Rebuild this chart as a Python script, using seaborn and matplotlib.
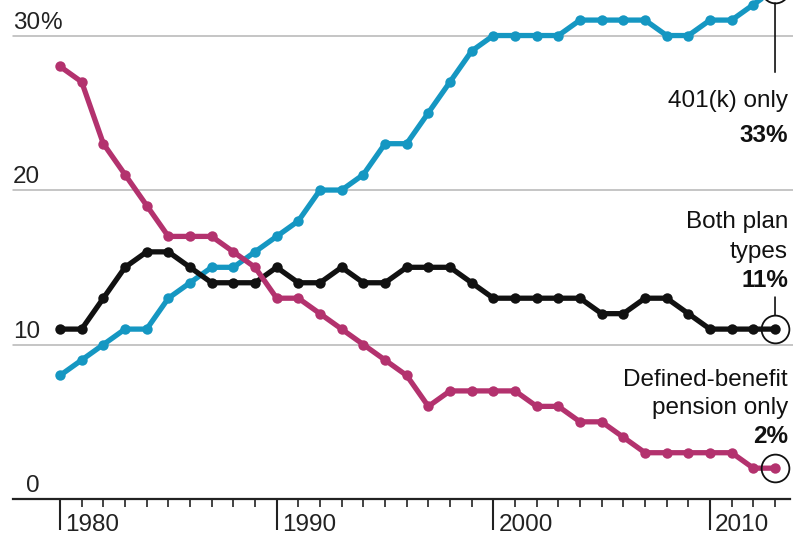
import pandas as pd
import seaborn as sns
import matplotlib.pyplot as plt

# Share of private-sector workers by type of retirement plan, %
years = list(range(1980, 2014))
k401_only = [8, 9, 10, 11, 11, 13, 14, 15, 15, 16,
             17, 18, 20, 20, 21, 23, 23, 25, 27, 29,
             30, 30, 30, 30, 31, 31, 31, 31, 30, 30,
             31, 31, 32, 33]
both_types = [11, 11, 13, 15, 16, 16, 15, 14, 14, 14,
              15, 14, 14, 15, 14, 14, 15, 15, 15, 14,
              13, 13, 13, 13, 13, 12, 12, 13, 13, 12,
              11, 11, 11, 11]
db_only = [28, 27, 23, 21, 19, 17, 17, 17, 16, 15,
           13, 13, 12, 11, 10, 9, 8, 6, 7, 7,
           7, 7, 6, 6, 5, 5, 4, 3, 3, 3,
           3, 3, 2, 2]

plans = ["401(k) only", "Both plan types", "Defined-benefit pension only"]
colors = {"401(k) only": "#1597c2", "Both plan types": "#111111",
          "Defined-benefit pension only": "#b3326e"}
gridlines = [10, 20, 30]
tick_years = [1980, 1990, 2000, 2010]

df = pd.DataFrame({"year": years * 3,
                   "share": k401_only + both_types + db_only,
                   "plan": [plans[0]] * len(years) + [plans[1]] * len(years) + [plans[2]] * len(years)})

sns.set_style("white")
plt.rcParams['font.family'] = ['Liberation Sans', 'DejaVu Sans']

fig = plt.figure(figsize=(7.93, 5.36), dpi=100)
ax = fig.add_axes([0, 0, 1, 1])
ax.set_xlim(1977.23, 2013.83)
ax.set_ylim(-2.39, 32.30)

# light gridlines
for g in gridlines:
    ax.axhline(g, xmin=13 / 793, xmax=1, color="#b5b5b5", lw=1.1, zorder=1)

# draw the three series
for p in plans:
    sub = df[df["plan"] == p]
    sns.lineplot(data=sub, x="year", y="share", color=colors[p], lw=3.8,
                 marker="o", markersize=7.5, markeredgewidth=0, ax=ax,
                 legend=False, zorder=3)

# axes styling
for s in ["top", "left", "right"]:
    ax.spines[s].set_visible(False)
ax.spines["bottom"].set_position(("data", 0))
ax.spines["bottom"].set_bounds(1977.83, 2013.7)
ax.spines["bottom"].set_linewidth(1.6)
ax.spines["bottom"].set_color("#222222")
ax.set_xticks(tick_years)
ax.set_xticks(years, minor=True)
ax.set_xticklabels([])
ax.tick_params(axis="x", which="major", direction="out", length=22, width=1.5,
               color="#222222", bottom=True)
ax.tick_params(axis="x", which="minor", direction="out", length=5.5, width=1.2,
               color="#222222", bottom=True)
ax.set_yticks([])
ax.set_xlabel("")
ax.set_ylabel("")

fs = 17.5
for yr in tick_years:
    ax.annotate(str(yr), xy=(yr, 0), xytext=(5, -32), textcoords="offset pixels",
                ha="left", va="baseline", fontsize=fs, color="#222222")

ytrans = ax.get_yaxis_transform()
for v in [0] + gridlines:
    ax.annotate(str(v), xy=(40 / 793, v), xycoords=ytrans, xytext=(0, 7),
                textcoords="offset pixels", ha="right", va="baseline",
                fontsize=fs, color="#222222")
ax.annotate("%", xy=(40 / 793, 30), xycoords=ytrans, xytext=(0, 7),
            textcoords="offset pixels", ha="left", va="baseline",
            fontsize=fs, color="#222222")

# end-point labels
last = years[-1]
ends = [(k401_only[-1], [("401(k) only", -118), ("33%", -153)], (-83, 14)),
        (both_types[-1], [("Both plan", 101), ("types", 71), ("11%", 42)], (32, 14)),
        (db_only[-1], [("Defined-benefit", 82), ("pension only", 54), ("2%", 25)], None)]
for val, lines, leader in ends:
    ax.plot(last, val, marker="o", ms=20, mfc="none", mec="#111111", mew=1.3,
            zorder=4)
    for i, (txt, dy) in enumerate(lines):
        ax.annotate(txt, xy=(last, val), xytext=(13, dy), textcoords="offset pixels",
                    ha="right", va="baseline", fontsize=fs, color="#111111",
                    fontweight="bold" if txt.endswith("%") else "normal",
                    annotation_clip=False)
    if leader:
        ax.annotate("", xy=(last, val), xytext=(0, leader[0]), textcoords="offset pixels",
                    annotation_clip=False,
                    arrowprops=dict(arrowstyle="-", lw=1.2, color="#111111",
                                    shrinkA=0, shrinkB=10))

fig.savefig("out.png", dpi=100)
